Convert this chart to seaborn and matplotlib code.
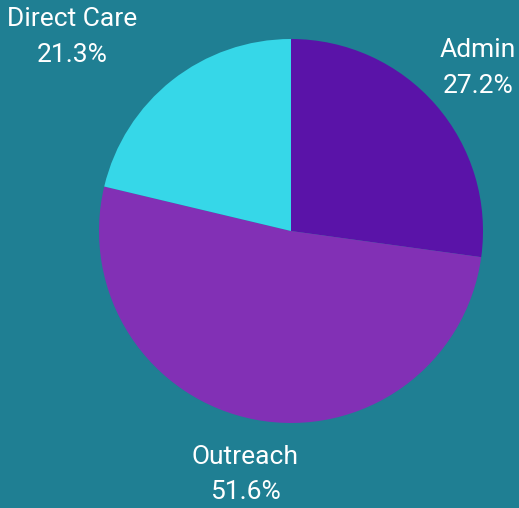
import seaborn as sns
import matplotlib.pyplot as plt

sns.set_theme(style="white")
plt.rcParams['font.family'] = ['Roboto', 'DejaVu Sans']

categories = ["Admin", "Outreach", "Direct Care"]
shares = [27.2, 51.6, 21.3]
colors = ["#5a13a8", "#8230b5", "#36d7e8"]
bg = "#1f7f93"

fig = plt.figure(figsize=(5.19, 5.08), dpi=100, facecolor=bg)
ax = fig.add_axes([99 / 519, 85 / 508, 384 / 519, 384 / 508])
ax.set_facecolor(bg)

labels = [f"{c}\n{v}%" for c, v in zip(categories, shares)]
wedges, texts = ax.pie(shares, labels=labels, colors=colors, startangle=90,
                       counterclock=False, labeldistance=1.29, radius=1,
                       wedgeprops=dict(linewidth=0),
                       textprops=dict(color="white", fontsize=19, linespacing=1.62,
                                      ha="center", va="center"))
for t in texts:
    t.set_horizontalalignment("center")
# keep the Direct Care label inside the canvas
x, y = texts[2].get_position()
texts[2].set_position((x - 0.34, y))

ax.set_xlim(-1, 1)
ax.set_ylim(-1, 1)
ax.set_aspect("equal")
ax.axis("off")

fig.savefig("out.png", dpi=100, facecolor=bg)
